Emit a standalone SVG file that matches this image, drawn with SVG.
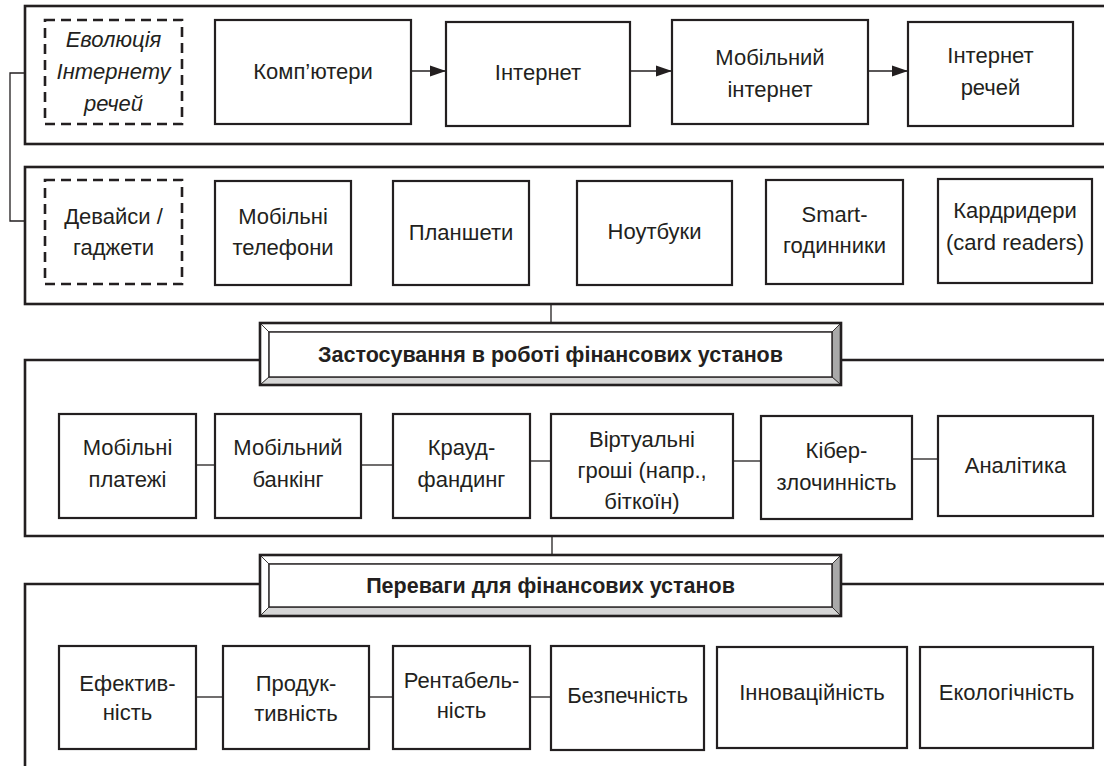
<svg xmlns="http://www.w3.org/2000/svg" width="1104" height="766" viewBox="0 0 1104 766">
<defs>
<style>
.frame{fill:none;stroke:#231f20;stroke-width:2.6}
.box{fill:#fff;stroke:#231f20;stroke-width:2.2}
.dash{fill:#fff;stroke:#231f20;stroke-width:2.6;stroke-dasharray:10 6}
.conn{fill:none;stroke:#231f20;stroke-width:1.3}
.t{font-family:"Liberation Sans",Arial,sans-serif;font-size:22px;fill:#231f20;text-anchor:middle}
.it{font-style:italic}
.h{font-family:"Liberation Sans",Arial,sans-serif;font-size:21.5px;font-weight:bold;fill:#231f20;text-anchor:middle}
.bevL{fill:#ffffff;stroke:#231f20;stroke-width:0.8}
.bevR{fill:#a9a9a9;stroke:#231f20;stroke-width:0.8}
.bevB{fill:#d6d6d6;stroke:#231f20;stroke-width:0.8}
.outer{fill:none;stroke:#231f20;stroke-width:2.6}
.inner{fill:#fff;stroke:#231f20;stroke-width:1.4}
</style>
<marker id="arr" markerWidth="16" markerHeight="12" refX="16" refY="6" orient="auto" markerUnits="userSpaceOnUse">
<path d="M0,0.5 L16,6 L0,11.5 z" fill="#231f20"/>
</marker>
</defs>
<rect width="1104" height="766" fill="#fff"/>

<g id="frames">
<rect class="frame" x="25" y="6" width="1100" height="138"/>
<rect class="frame" x="25" y="167" width="1100" height="137"/>
<path class="frame" d="M260,360 H25 V536 H1110 M841,360 H1110"/>
<path class="frame" d="M260,584 H25 V775 M841,584 H1110"/>
</g>

<g id="connectors">
<path class="conn" d="M25,73 H10 V221 H25"/>
<line class="conn" x1="411" y1="71" x2="446" y2="71" marker-end="url(#arr)"/>
<line class="conn" x1="630" y1="71" x2="672" y2="71" marker-end="url(#arr)"/>
<line class="conn" x1="868" y1="71" x2="908" y2="71" marker-end="url(#arr)"/>
<line class="conn" x1="551" y1="304" x2="551" y2="323"/>
<line class="conn" x1="552" y1="536" x2="552" y2="555"/>
<line class="conn" x1="196" y1="465" x2="215" y2="465"/>
<line class="conn" x1="361" y1="465" x2="393" y2="465"/>
<line class="conn" x1="530" y1="461" x2="551" y2="461"/>
<line class="conn" x1="733" y1="461" x2="761" y2="461"/>
<line class="conn" x1="912" y1="459" x2="938" y2="459"/>
<line class="conn" x1="196" y1="697" x2="223" y2="697"/>
<line class="conn" x1="369" y1="697" x2="393" y2="697"/>
<line class="conn" x1="530" y1="697" x2="551" y2="697"/>
</g>

<g id="evolution">
<rect class="dash" x="45" y="20" width="137" height="104"/>
<text class="t it" x="113.5" y="47">Еволюція</text>
<text class="t it" x="113.5" y="79">Інтернету</text>
<text class="t it" x="113.5" y="111">речей</text>
</g>
<g id="computers"><rect class="box" x="215" y="20" width="196" height="104"/><text class="t" x="313" y="79">Комп’ютери</text></g>
<g id="internet"><rect class="box" x="446" y="22" width="184" height="104"/><text class="t" x="538" y="80">Інтернет</text></g>
<g id="mobile-internet"><rect class="box" x="672" y="20" width="196" height="104"/><text class="t" x="770" y="65">Мобільний</text><text class="t" x="770" y="97">інтернет</text></g>
<g id="iot"><rect class="box" x="908" y="22" width="165" height="104"/><text class="t" x="990.5" y="63">Інтернет</text><text class="t" x="990.5" y="95">речей</text></g>

<g id="devices">
<rect class="dash" x="45" y="180" width="137" height="104"/>
<text class="t" x="113.5" y="224">Девайси /</text>
<text class="t" x="113.5" y="255">гаджети</text>
</g>
<g id="phones"><rect class="box" x="215" y="181" width="136" height="104"/><text class="t" x="283" y="224">Мобільні</text><text class="t" x="283" y="255">телефони</text></g>
<g id="tablets"><rect class="box" x="393" y="181" width="136" height="104"/><text class="t" x="461" y="240">Планшети</text></g>
<g id="laptops"><rect class="box" x="577" y="181" width="155" height="104"/><text class="t" x="654.5" y="239">Ноутбуки</text></g>
<g id="smartwatch"><rect class="box" x="766" y="180" width="137" height="104"/><text class="t" x="834.5" y="222">Smart-</text><text class="t" x="834.5" y="253">годинники</text></g>
<g id="cardreaders"><rect class="box" x="938" y="179" width="154" height="104"/><text class="t" x="1015" y="218">Кардридери</text><text class="t" x="1015" y="250">(card readers)</text></g>

<g id="header-apply">
<polygon class="bevL" points="260,323 841,323 832,332 269,332"/>
<polygon class="bevL" points="260,323 269,332 269,377 260,385"/>
<polygon class="bevR" points="841,323 841,385 832,377 832,332"/>
<polygon class="bevB" points="260,385 841,385 832,377 269,377"/>
<rect class="inner" x="269" y="332" width="563" height="45"/>
<rect class="outer" x="260" y="323" width="581" height="62"/>
<text class="h" x="550.5" y="362">Застосування в роботі фінансових установ</text>
</g>

<g id="mob-payments"><rect class="box" x="59" y="414" width="137" height="104"/><text class="t" x="127.5" y="455">Мобільні</text><text class="t" x="127.5" y="487">платежі</text></g>
<g id="mob-banking"><rect class="box" x="215" y="414" width="146" height="104"/><text class="t" x="288" y="455">Мобільний</text><text class="t" x="288" y="487">банкінг</text></g>
<g id="crowdfunding"><rect class="box" x="393" y="414" width="137" height="104"/><text class="t" x="461.5" y="455">Крауд-</text><text class="t" x="461.5" y="487">фандинг</text></g>
<g id="virtual-money"><rect class="box" x="551" y="414" width="182" height="104"/><text class="t" x="642" y="447">Віртуальні</text><text class="t" x="642" y="478">гроші (напр.,</text><text class="t" x="642" y="509">біткоїн)</text></g>
<g id="cybercrime"><rect class="box" x="761" y="416" width="151" height="103"/><text class="t" x="836.5" y="458">Кібер-</text><text class="t" x="836.5" y="490">злочинність</text></g>
<g id="analytics"><rect class="box" x="938" y="416" width="155" height="100"/><text class="t" x="1015.5" y="473">Аналітика</text></g>

<g id="header-benefits">
<polygon class="bevL" points="260,555 841,555 832,564 269,564"/>
<polygon class="bevL" points="260,555 269,564 269,607 260,616"/>
<polygon class="bevR" points="841,555 841,616 832,607 832,564"/>
<polygon class="bevB" points="260,616 841,616 832,607 269,607"/>
<rect class="inner" x="269" y="564" width="563" height="43"/>
<rect class="outer" x="260" y="555" width="581" height="61"/>
<text class="h" x="550.5" y="593">Переваги для фінансових установ</text>
</g>

<g id="efficiency"><rect class="box" x="59" y="646" width="137" height="103"/><text class="t" x="127.5" y="691">Ефектив-</text><text class="t" x="127.5" y="720">ність</text></g>
<g id="productivity"><rect class="box" x="223" y="646" width="146" height="103"/><text class="t" x="296" y="691">Продук-</text><text class="t" x="296" y="721">тивність</text></g>
<g id="profitability"><rect class="box" x="393" y="646" width="137" height="103"/><text class="t" x="461.5" y="688">Рентабель-</text><text class="t" x="461.5" y="718">ність</text></g>
<g id="security"><rect class="box" x="551" y="646" width="153" height="104"/><text class="t" x="627.5" y="703">Безпечність</text></g>
<g id="innovation"><rect class="box" x="717" y="647" width="190" height="101"/><text class="t" x="812" y="700">Інноваційність</text></g>
<g id="ecology"><rect class="box" x="920" y="647" width="173" height="101"/><text class="t" x="1006.5" y="700">Екологічність</text></g>
</svg>
